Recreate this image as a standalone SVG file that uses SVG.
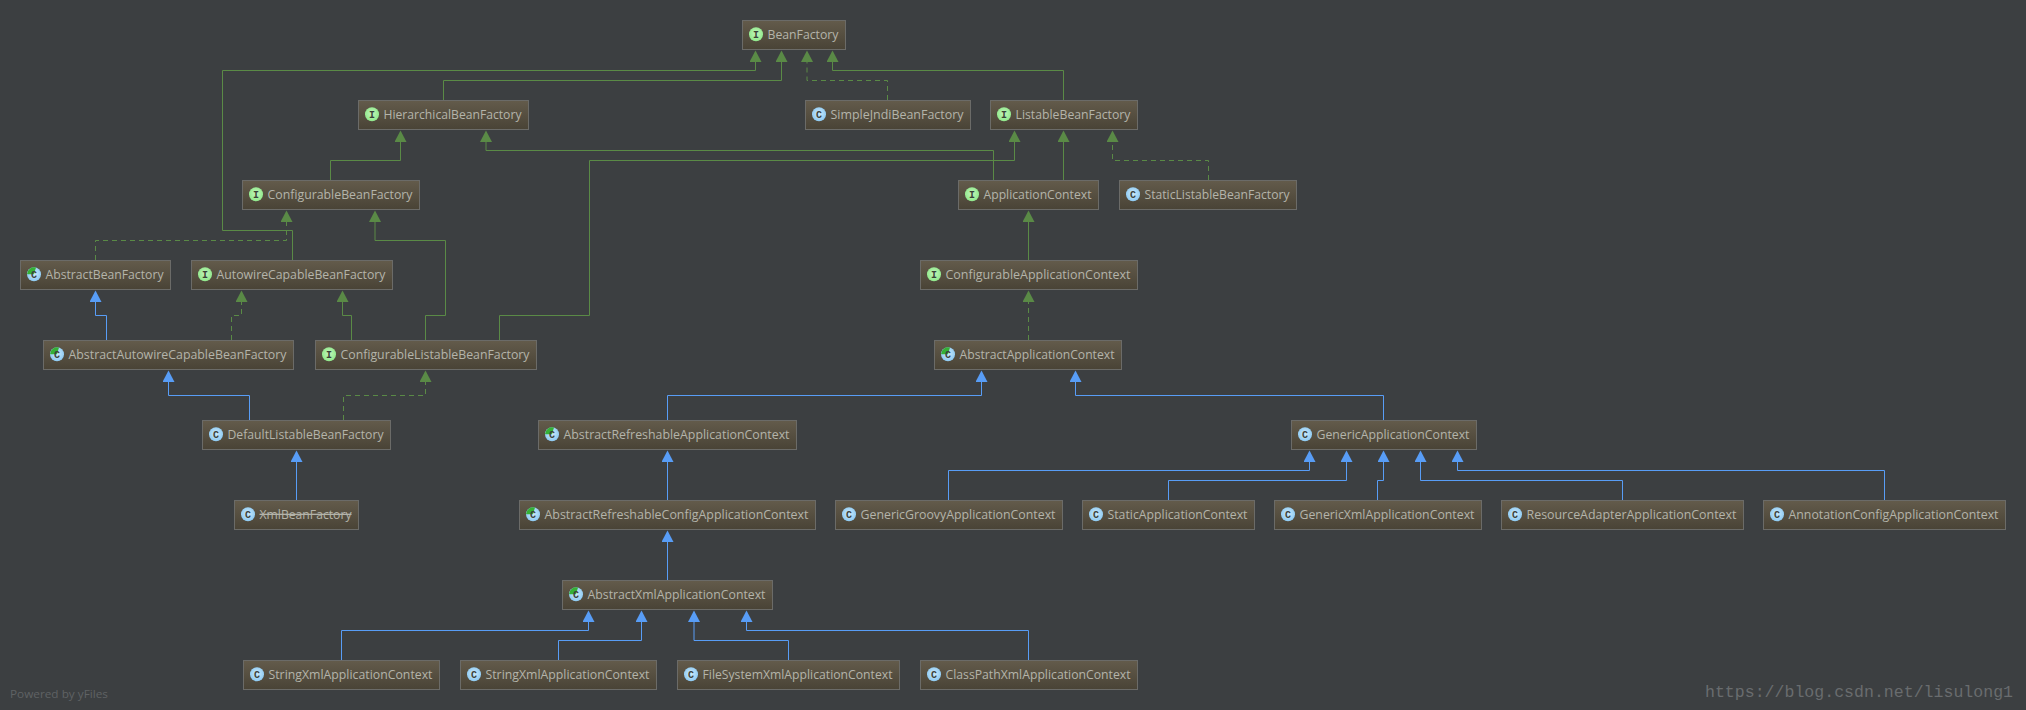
<svg xmlns="http://www.w3.org/2000/svg" width="2026" height="710" viewBox="0 0 2026 710">
<style>
.bg{fill:#3c3f41}
.box{fill:url(#nodeGrad);stroke:#6b6b68;stroke-width:1}
.t{font-family:"Open Sans","Noto Sans",sans-serif;font-size:13px;fill:#b4b4aa}
.l{font-family:"Liberation Mono",monospace;font-size:10px;font-weight:bold;fill:#3a4038;text-anchor:middle}
.st{text-decoration:line-through}
.c{fill:none;stroke-width:1}
.g{stroke:#5a8a46;marker-end:url(#hg)}
.gd{stroke:#5a8a46;stroke-dasharray:5 4;marker-end:url(#hg)}
.b{stroke:#589df6;marker-end:url(#hb)}
.pw{font-family:"Open Sans","Liberation Sans",sans-serif;font-size:11.5px;fill:#5f6264}
.wm{font-family:"Liberation Mono",monospace;font-size:16.5px;fill:#696c6e}
</style>
<defs>
<linearGradient id="nodeGrad" x1="0" y1="0" x2="0" y2="1"><stop offset="0" stop-color="#635b4b"/><stop offset="1" stop-color="#494336"/></linearGradient>
<radialGradient id="gi" cx="0.5" cy="0.45" r="0.55"><stop offset="0" stop-color="#c4f5bc"/><stop offset="1" stop-color="#8fe88a"/></radialGradient>
<radialGradient id="gc" cx="0.5" cy="0.45" r="0.55"><stop offset="0" stop-color="#d0ecfb"/><stop offset="1" stop-color="#8cc9f2"/></radialGradient>
<marker id="hg" markerUnits="userSpaceOnUse" markerWidth="12" markerHeight="12" refX="0" refY="6" orient="auto" viewBox="0 0 12 12"><path d="M0 0L11.5 6L0 12Z" fill="#5a8a46"/></marker>
<marker id="hb" markerUnits="userSpaceOnUse" markerWidth="12" markerHeight="12" refX="0" refY="6" orient="auto" viewBox="0 0 12 12"><path d="M0 0L11.5 6L0 12Z" fill="#589df6"/></marker>
<circle id="icI" cx="13.5" cy="14.3" r="7" fill="url(#gi)"/>
<circle id="icC" cx="13.5" cy="14.3" r="7" fill="url(#gc)"/>
<g id="icA"><circle cx="13.5" cy="14.3" r="7" fill="url(#gc)"/><path d="M13.5 14.3H6.5A7 7 0 0 1 15.5 7.6Z" fill="#35b035"/></g>
</defs>
<rect class="bg" width="2026" height="710"/>
<g id="connectors">
<path class="c g" d="M292.5 260V230.5H222.5V70.5H755.5V62"/>
<path class="c g" d="M443.5 100V80.5H781.5V62"/>
<path class="c gd" d="M887.5 100V80.5H807V62"/>
<path class="c g" d="M1063.5 100V70.5H832.5V62"/>
<path class="c g" d="M330.5 180V160.5H400.5V142"/>
<path class="c g" d="M993.5 180V150.5H486V142"/>
<path class="c g" d="M499.5 340V315.5H589.5V160.5H1014.5V142"/>
<path class="c g" d="M1063.5 180V142"/>
<path class="c gd" d="M1208.5 180V160.5H1112.5V142"/>
<path class="c g" d="M1028.5 260V222"/>
<path class="c gd" d="M95.5 260V240.5H286.5V222"/>
<path class="c g" d="M425.5 340V315.5H445.5V240.5H375V222"/>
<path class="c gd" d="M1028.5 340V302"/>
<path class="c b" d="M106.5 340V315.5H95.5V302"/>
<path class="c gd" d="M231.5 340V315.5H241.5V302"/>
<path class="c g" d="M351.5 340V315.5H342.5V302"/>
<path class="c b" d="M249.5 420V395.5H168.5V382"/>
<path class="c gd" d="M343.5 420V395.5H425.5V382"/>
<path class="c b" d="M296.5 500V462"/>
<path class="c b" d="M667.5 420V395.5H981.5V382"/>
<path class="c b" d="M1383.5 420V395.5H1075.5V382"/>
<path class="c b" d="M667.5 500V462"/>
<path class="c b" d="M667.5 580V542"/>
<path class="c b" d="M948.5 500V470.5H1309.5V462"/>
<path class="c b" d="M1168.5 500V480.5H1346.5V462"/>
<path class="c b" d="M1377.5 500V480.5H1383.5V462"/>
<path class="c b" d="M1622.5 500V480.5H1420.5V462"/>
<path class="c b" d="M1884.5 500V470.5H1457.5V462"/>
<path class="c b" d="M341.5 660V630.5H588.5V622"/>
<path class="c b" d="M558.5 660V640.5H641.5V622"/>
<path class="c b" d="M788.5 660V640.5H694V622"/>
<path class="c b" d="M1028.5 660V630.5H746.5V622"/>
</g>
<g id="BeanFactory" transform="translate(742.5 20)"><rect class="box" y="0.5" width="103" height="29"/><use href="#icI"/><text class="l" x="13.5" y="17.8">I</text><text class="t" x="25" y="19" textLength="71" lengthAdjust="spacingAndGlyphs">BeanFactory</text></g>
<g id="HierarchicalBeanFactory" transform="translate(358.5 100)"><rect class="box" y="0.5" width="170" height="29"/><use href="#icI"/><text class="l" x="13.5" y="17.8">I</text><text class="t" x="25" y="19" textLength="138" lengthAdjust="spacingAndGlyphs">HierarchicalBeanFactory</text></g>
<g id="SimpleJndiBeanFactory" transform="translate(805.5 100)"><rect class="box" y="0.5" width="165" height="29"/><use href="#icC"/><text class="l" x="13.5" y="17.8">C</text><text class="t" x="25" y="19" textLength="133" lengthAdjust="spacingAndGlyphs">SimpleJndiBeanFactory</text></g>
<g id="ListableBeanFactory" transform="translate(990.5 100)"><rect class="box" y="0.5" width="147" height="29"/><use href="#icI"/><text class="l" x="13.5" y="17.8">I</text><text class="t" x="25" y="19" textLength="115" lengthAdjust="spacingAndGlyphs">ListableBeanFactory</text></g>
<g id="ConfigurableBeanFactory" transform="translate(242.5 180)"><rect class="box" y="0.5" width="177" height="29"/><use href="#icI"/><text class="l" x="13.5" y="17.8">I</text><text class="t" x="25" y="19" textLength="145" lengthAdjust="spacingAndGlyphs">ConfigurableBeanFactory</text></g>
<g id="ApplicationContext" transform="translate(958.5 180)"><rect class="box" y="0.5" width="140" height="29"/><use href="#icI"/><text class="l" x="13.5" y="17.8">I</text><text class="t" x="25" y="19" textLength="108" lengthAdjust="spacingAndGlyphs">ApplicationContext</text></g>
<g id="StaticListableBeanFactory" transform="translate(1119.5 180)"><rect class="box" y="0.5" width="177" height="29"/><use href="#icC"/><text class="l" x="13.5" y="17.8">C</text><text class="t" x="25" y="19" textLength="145" lengthAdjust="spacingAndGlyphs">StaticListableBeanFactory</text></g>
<g id="AbstractBeanFactory" transform="translate(20.5 260)"><rect class="box" y="0.5" width="150" height="29"/><use href="#icA"/><text class="l" x="13.5" y="17.8">C</text><text class="t" x="25" y="19" textLength="118" lengthAdjust="spacingAndGlyphs">AbstractBeanFactory</text></g>
<g id="AutowireCapableBeanFactory" transform="translate(191.5 260)"><rect class="box" y="0.5" width="201" height="29"/><use href="#icI"/><text class="l" x="13.5" y="17.8">I</text><text class="t" x="25" y="19" textLength="169" lengthAdjust="spacingAndGlyphs">AutowireCapableBeanFactory</text></g>
<g id="ConfigurableApplicationContext" transform="translate(920.5 260)"><rect class="box" y="0.5" width="217" height="29"/><use href="#icI"/><text class="l" x="13.5" y="17.8">I</text><text class="t" x="25" y="19" textLength="185" lengthAdjust="spacingAndGlyphs">ConfigurableApplicationContext</text></g>
<g id="AbstractAutowireCapableBeanFactory" transform="translate(43.5 340)"><rect class="box" y="0.5" width="250" height="29"/><use href="#icA"/><text class="l" x="13.5" y="17.8">C</text><text class="t" x="25" y="19" textLength="218" lengthAdjust="spacingAndGlyphs">AbstractAutowireCapableBeanFactory</text></g>
<g id="ConfigurableListableBeanFactory" transform="translate(315.5 340)"><rect class="box" y="0.5" width="221" height="29"/><use href="#icI"/><text class="l" x="13.5" y="17.8">I</text><text class="t" x="25" y="19" textLength="189" lengthAdjust="spacingAndGlyphs">ConfigurableListableBeanFactory</text></g>
<g id="AbstractApplicationContext" transform="translate(934.5 340)"><rect class="box" y="0.5" width="187" height="29"/><use href="#icA"/><text class="l" x="13.5" y="17.8">C</text><text class="t" x="25" y="19" textLength="155" lengthAdjust="spacingAndGlyphs">AbstractApplicationContext</text></g>
<g id="DefaultListableBeanFactory" transform="translate(202.5 420)"><rect class="box" y="0.5" width="188" height="29"/><use href="#icC"/><text class="l" x="13.5" y="17.8">C</text><text class="t" x="25" y="19" textLength="156" lengthAdjust="spacingAndGlyphs">DefaultListableBeanFactory</text></g>
<g id="AbstractRefreshableApplicationContext" transform="translate(538.5 420)"><rect class="box" y="0.5" width="258" height="29"/><use href="#icA"/><text class="l" x="13.5" y="17.8">C</text><text class="t" x="25" y="19" textLength="226" lengthAdjust="spacingAndGlyphs">AbstractRefreshableApplicationContext</text></g>
<g id="GenericApplicationContext" transform="translate(1291.5 420)"><rect class="box" y="0.5" width="185" height="29"/><use href="#icC"/><text class="l" x="13.5" y="17.8">C</text><text class="t" x="25" y="19" textLength="153" lengthAdjust="spacingAndGlyphs">GenericApplicationContext</text></g>
<g id="XmlBeanFactory" transform="translate(234.5 500)"><rect class="box" y="0.5" width="124" height="29"/><use href="#icC"/><text class="l" x="13.5" y="17.8">C</text><text class="t st" x="25" y="19" textLength="92" lengthAdjust="spacingAndGlyphs">XmlBeanFactory</text></g>
<g id="AbstractRefreshableConfigApplicationContext" transform="translate(519.5 500)"><rect class="box" y="0.5" width="296" height="29"/><use href="#icA"/><text class="l" x="13.5" y="17.8">C</text><text class="t" x="25" y="19" textLength="264" lengthAdjust="spacingAndGlyphs">AbstractRefreshableConfigApplicationContext</text></g>
<g id="GenericGroovyApplicationContext" transform="translate(835.5 500)"><rect class="box" y="0.5" width="227" height="29"/><use href="#icC"/><text class="l" x="13.5" y="17.8">C</text><text class="t" x="25" y="19" textLength="195" lengthAdjust="spacingAndGlyphs">GenericGroovyApplicationContext</text></g>
<g id="StaticApplicationContext" transform="translate(1082.5 500)"><rect class="box" y="0.5" width="172" height="29"/><use href="#icC"/><text class="l" x="13.5" y="17.8">C</text><text class="t" x="25" y="19" textLength="140" lengthAdjust="spacingAndGlyphs">StaticApplicationContext</text></g>
<g id="GenericXmlApplicationContext" transform="translate(1274.5 500)"><rect class="box" y="0.5" width="207" height="29"/><use href="#icC"/><text class="l" x="13.5" y="17.8">C</text><text class="t" x="25" y="19" textLength="175" lengthAdjust="spacingAndGlyphs">GenericXmlApplicationContext</text></g>
<g id="ResourceAdapterApplicationContext" transform="translate(1501.5 500)"><rect class="box" y="0.5" width="242" height="29"/><use href="#icC"/><text class="l" x="13.5" y="17.8">C</text><text class="t" x="25" y="19" textLength="210" lengthAdjust="spacingAndGlyphs">ResourceAdapterApplicationContext</text></g>
<g id="AnnotationConfigApplicationContext" transform="translate(1763.5 500)"><rect class="box" y="0.5" width="242" height="29"/><use href="#icC"/><text class="l" x="13.5" y="17.8">C</text><text class="t" x="25" y="19" textLength="210" lengthAdjust="spacingAndGlyphs">AnnotationConfigApplicationContext</text></g>
<g id="AbstractXmlApplicationContext" transform="translate(562.5 580)"><rect class="box" y="0.5" width="210" height="29"/><use href="#icA"/><text class="l" x="13.5" y="17.8">C</text><text class="t" x="25" y="19" textLength="178" lengthAdjust="spacingAndGlyphs">AbstractXmlApplicationContext</text></g>
<g id="StringXmlApplicationContext1" transform="translate(243.5 660)"><rect class="box" y="0.5" width="196" height="29"/><use href="#icC"/><text class="l" x="13.5" y="17.8">C</text><text class="t" x="25" y="19" textLength="164" lengthAdjust="spacingAndGlyphs">StringXmlApplicationContext</text></g>
<g id="StringXmlApplicationContext2" transform="translate(460.5 660)"><rect class="box" y="0.5" width="196" height="29"/><use href="#icC"/><text class="l" x="13.5" y="17.8">C</text><text class="t" x="25" y="19" textLength="164" lengthAdjust="spacingAndGlyphs">StringXmlApplicationContext</text></g>
<g id="FileSystemXmlApplicationContext" transform="translate(677.5 660)"><rect class="box" y="0.5" width="222" height="29"/><use href="#icC"/><text class="l" x="13.5" y="17.8">C</text><text class="t" x="25" y="19" textLength="190" lengthAdjust="spacingAndGlyphs">FileSystemXmlApplicationContext</text></g>
<g id="ClassPathXmlApplicationContext" transform="translate(920.5 660)"><rect class="box" y="0.5" width="217" height="29"/><use href="#icC"/><text class="l" x="13.5" y="17.8">C</text><text class="t" x="25" y="19" textLength="185" lengthAdjust="spacingAndGlyphs">ClassPathXmlApplicationContext</text></g>
<text class="pw" x="10" y="698" textLength="98" lengthAdjust="spacingAndGlyphs">Powered by yFiles</text>
<text class="wm" x="1705" y="697" textLength="308" lengthAdjust="spacingAndGlyphs">https://blog.csdn.net/lisulong1</text>
</svg>
